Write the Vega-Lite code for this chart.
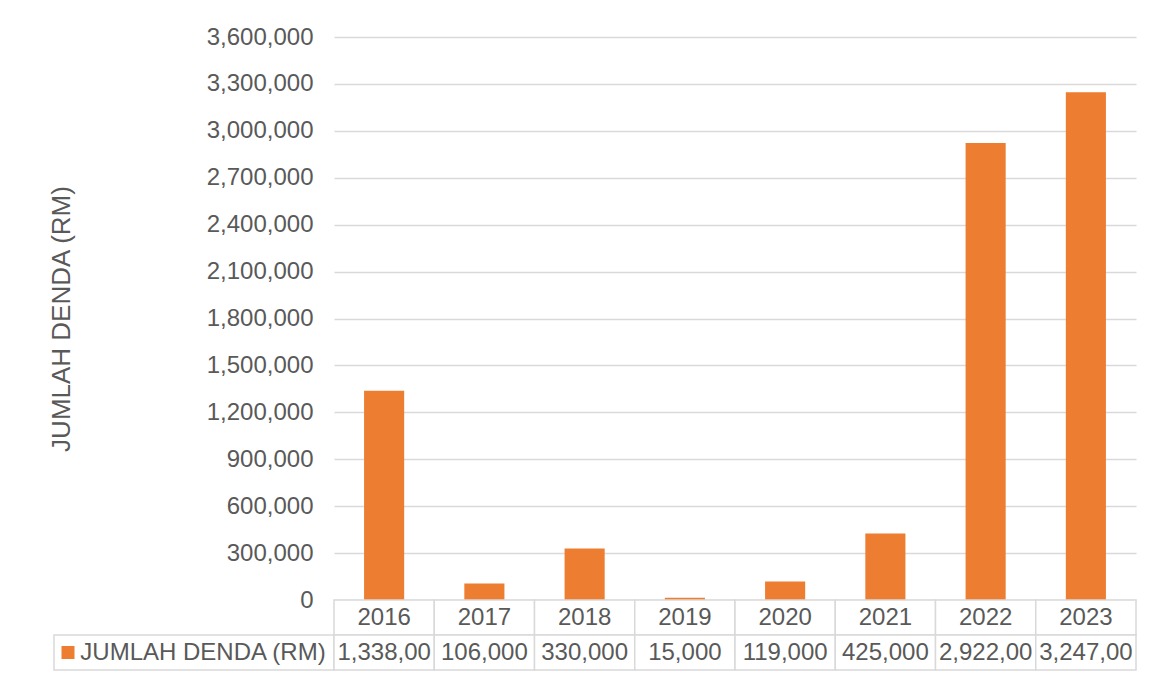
{
  "$schema": "https://vega.github.io/schema/vega-lite/v6.json",
  "padding": {"left": 48, "top": 25, "right": 20, "bottom": 4},
  "autosize": {"type": "pad"},
  "background": "white",
  "config": {"view": {"stroke": null}, "font": "Liberation Sans"},
  "datasets": {
    "fines": [
      {"year": "2016", "value": 1338000},
      {"year": "2017", "value": 106000},
      {"year": "2018", "value": 330000},
      {"year": "2019", "value": 15000},
      {"year": "2020", "value": 119000},
      {"year": "2021", "value": 425000},
      {"year": "2022", "value": 2922000},
      {"year": "2023", "value": 3247000}
    ],
    "series": [{"label": "JUMLAH DENDA (RM)"}]
  },
  "columns": 2,
  "spacing": 0,
  "bounds": "flush",
  "concat": [
    {
      "width": 280,
      "height": 563,
      "data": {"name": "series"},
      "mark": {"type": "text", "opacity": 0},
      "encoding": {"text": {"value": ""}}
    },
    {
      "width": 802,
      "height": 563,
      "data": {"name": "fines"},
      "mark": {"type": "bar", "color": "#ED7D31"},
      "encoding": {
        "x": {"field": "year", "type": "nominal", "sort": null, "axis": null,
              "scale": {"paddingInner": 0.6, "paddingOuter": 0.3}},
        "y": {"field": "value", "type": "quantitative",
              "scale": {"domain": [0, 3600000], "nice": false},
              "axis": {
                "title": "JUMLAH DENDA (RM)",
                "values": [0, 300000, 600000, 900000, 1200000, 1500000, 1800000, 2100000, 2400000, 2700000, 3000000, 3300000, 3600000],
                "format": ",.0f",
                "labelFontSize": 24, "labelColor": "#595959", "labelPadding": 21,
                "titleFontSize": 26, "titleFontWeight": "normal", "titleColor": "#595959",
                "titlePadding": 132,
                "domain": false, "ticks": false,
                "gridColor": "#d9d9d9", "gridWidth": 1.5
              }}
      }
    },
    {
      "width": 280,
      "height": 70,
      "data": {"name": "series"},
      "layer": [
        {
          "mark": {"type": "rect", "fill": "white", "stroke": "#d9d9d9", "strokeWidth": 1.5},
          "encoding": {"y": {"datum": "v", "type": "nominal", "scale": {"domain": ["h", "v"], "paddingInner": 0, "paddingOuter": 0}, "axis": null}}
        },
        {
          "mark": {"type": "point", "shape": "square", "filled": true, "size": 169, "color": "#ED7D31", "opacity": 1, "xOffset": -126},
          "encoding": {"y": {"datum": "v", "type": "nominal"}}
        },
        {
          "mark": {"type": "text", "fontSize": 24, "color": "#595959", "dx": 9},
          "encoding": {"y": {"datum": "v", "type": "nominal"}, "text": {"field": "label"}}
        }
      ]
    },
    {
      "width": 802,
      "height": 70,
      "data": {"name": "fines"},
      "encoding": {
        "x": {"field": "year", "type": "nominal", "sort": null, "axis": null, "scale": {"paddingInner": 0, "paddingOuter": 0}}
      },
      "layer": [
        {
          "mark": {"type": "rect", "fill": "white", "stroke": "#d9d9d9", "strokeWidth": 1.5},
          "encoding": {"y": {"datum": "h", "type": "nominal", "scale": {"domain": ["h", "v"], "paddingInner": 0, "paddingOuter": 0}, "axis": null}}
        },
        {
          "mark": {"type": "rect", "fill": "white", "stroke": "#d9d9d9", "strokeWidth": 1.5},
          "encoding": {"y": {"datum": "v", "type": "nominal"}}
        },
        {
          "mark": {"type": "text", "fontSize": 24, "color": "#595959"},
          "encoding": {"y": {"datum": "h", "type": "nominal"}, "text": {"field": "year"}}
        },
        {
          "mark": {"type": "text", "fontSize": 24, "color": "#595959", "limit": 99, "ellipsis": "\u200b"},
          "encoding": {"y": {"datum": "v", "type": "nominal"}, "text": {"field": "value", "type": "quantitative", "format": ",.0f"}}
        }
      ]
    }
  ]
}
